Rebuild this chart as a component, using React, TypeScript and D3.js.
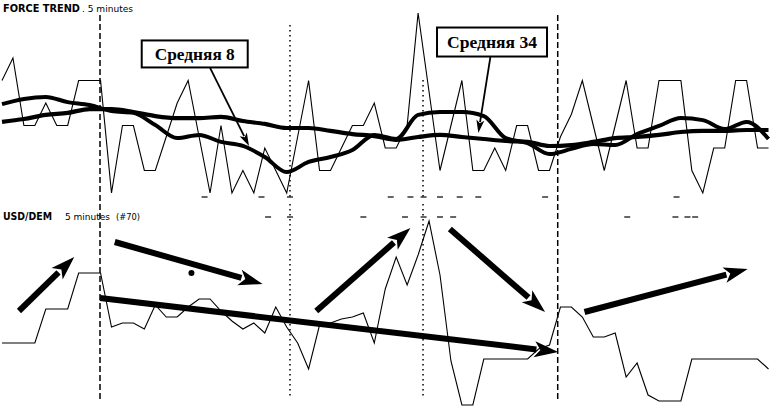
import * as d3 from 'd3'

// bar numbers 0..70, 5-minute bars
const forceTrend = [
  1, 2, -1, -1, 0, -1, -1, 1, 1, 1,
  -4, -1, -1, -3, -3, -1.5, 0, 1, -1.5, -4,
  -1, -4, -3, -4, -2, -3, -4, -1.5, 1, -3,
  -3, -2, -1, -1, 0, -2, -2, -1, 4, 0.5,
  -3, -1, 1, -3, -3, -2, -3, -1, -1, -3,
  -3, -1.5, -0.5, 1, -1, -3, -1, 1, -2, -2,
  1, 1, 1, -3, -4, -2, -2, 1, 1, -2,
  -2,
]

// moving averages, read every second bar
const maBars = d3.range(0, 71, 2)
const ma8 = [
  -0.05, 0.18, 0.27, 0.04, -0.09, -0.36, -0.44, -0.98, -1.56, -1.42,
  -1.73, -1.91, -2.4, -3.07, -2.62, -2.4, -2.09, -1.42, -1.6, -0.53,
  -0.4, -0.4, -0.58, -1.56, -1.78, -2.27, -2.04, -1.82, -1.87, -1.38,
  -1.02, -0.67, -0.76, -1.16, -0.84, -1.6,
]
const ma34 = [
  -0.84, -0.71, -0.53, -0.44, -0.27, -0.27, -0.4, -0.58, -0.67, -0.67,
  -0.62, -0.8, -0.93, -1.11, -1.11, -1.24, -1.38, -1.47, -1.64, -1.51,
  -1.42, -1.51, -1.6, -1.69, -1.73, -1.91, -1.87, -1.73, -1.56, -1.51,
  -1.42, -1.29, -1.24, -1.24, -1.2, -1.2,
]

const usdDem = [
  1.4731, 1.4731, 1.4731, 1.4731, 1.4748, 1.4748, 1.4748, 1.4766, 1.4766, 1.4766,
  1.4739, 1.4741, 1.4741, 1.4738, 1.4750, 1.4744, 1.4744, 1.4749, 1.4753, 1.4753,
  1.4747, 1.4742, 1.4738, 1.4741, 1.4736, 1.4749, 1.4739, 1.4731, 1.4718, 1.4740,
  1.4741, 1.4743, 1.4744, 1.4746, 1.4731, 1.4758, 1.4774, 1.4760, 1.4775, 1.4792,
  1.4765, 1.4722, 1.4700, 1.4700, 1.4723, 1.4723, 1.4723, 1.4723, 1.4723, 1.4728,
  1.4730, 1.4749, 1.4749, 1.4744, 1.4734, 1.4734, 1.4736, 1.4714, 1.4721, 1.4705,
  1.4702, 1.4702, 1.4702, 1.4723, 1.4723, 1.4723, 1.4723, 1.4723, 1.4723, 1.4723,
  1.4718,
]

// vertical markers (bar position)
const dashedBars = [8.95, 50.75]
const dottedBars = [26.3, 38.45]

// leftover grid dashes from the print
const topGridMarks = [18.5, 23.7, 26.3, 35.5, 37.3, 38.5, 40, 41.8, 43.5, 49.6, 61.6]
const bottomGridMarks = [24.3, 26.3, 33, 36.8, 38.5, 40, 41.2, 57.1, 61.5, 62.6, 63.3]

// trend arrows on the price panel: [bar, price] -> [bar, price]
const trendArrows: [number, number, number, number][] = [
  [1.55, 1.4747, 6.6, 1.4774],
  [10.3, 1.47815, 23.8, 1.47605],
  [8.95, 1.47535, 50.8, 1.47265],
  [28.7, 1.4747, 37.3, 1.47885],
  [40.9, 1.4788, 49.6, 1.47465],
  [53.2, 1.47465, 68.1, 1.4768],
]
const priceDot = [17.3, 1.4766]

// callouts on the force panel
const callouts = [
  { label: 'Средняя 8', bar: 17.6, value: 2.18, w: 106, h: 27, tl: 80, from: [19, 1.56], to: [22.56, -1.91] },
  { label: 'Средняя 34', bar: 44.75, value: 2.71, w: 110, h: 29, tl: 90, from: [44.6, 2.04], to: [43.5, -1.33] },
]

const W = 783
const H = 416

function Arrow({ x1, y1, x2, y2, w, hl, hw }: { x1: number; y1: number; x2: number; y2: number; w: number; hl: number; hw: number }) {
  const dx = x2 - x1
  const dy = y2 - y1
  const len = Math.hypot(dx, dy)
  const ux = dx / len
  const uy = dy / len
  const px = -uy
  const py = ux
  const bx = x2 - ux * hl
  const by = y2 - uy * hl
  const pts = [
    [x2, y2],
    [bx + (px * hw) / 2, by + (py * hw) / 2],
    [bx + ux * hl * 0.25, by + uy * hl * 0.25],
    [bx - (px * hw) / 2, by - (py * hw) / 2],
  ]
  return (
    <g>
      <line x1={x1} y1={y1} x2={bx + ux * 2} y2={by + uy * 2} stroke="#000" strokeWidth={w} />
      <polygon points={pts.map(p => p.join(',')).join(' ')} fill="#000" />
    </g>
  )
}

export default function App() {
  const x = d3.scaleLinear().domain([0, 70]).range([2, 768.5])
  const yF = d3.scaleLinear().domain([-4, 4]).range([193, 13])
  const yP = d3.scaleLinear().domain([1.47, 1.4792]).range([405, 221])

  const thin = d3.line<number>().x((_, i) => x(i)).y(d => yF(d))
  const ma = d3.line<number>().x((_, i) => x(maBars[i])).y(d => yF(d)).curve(d3.curveMonotoneX)
  const price = d3.line<number>().x((_, i) => x(i)).y(d => yP(d))

  const labelFont = 'DejaVu Sans Condensed, Liberation Sans Narrow, Arial Narrow, sans-serif'

  return (
    <svg
      width={W}
      height={H}
      viewBox={`0 0 ${W} ${H}`}
      style={{ position: 'fixed', left: 0, top: 0, background: '#fff' }}
    >
      <rect width={W} height={H} fill="#fff" />

      {/* titles */}
      <text x={3} y={12} fontFamily={labelFont} fontSize={10.5} fill="#000">
        <tspan fontWeight="bold" textLength={77} lengthAdjust="spacingAndGlyphs">FORCE TREND</tspan>
        <tspan x={82} fontSize={9} textLength={51} lengthAdjust="spacingAndGlyphs">. 5 minutes</tspan>
      </text>
      <text x={3} y={220} fontFamily={labelFont} fontSize={10} fill="#000">
        <tspan fontWeight="bold" textLength={49} lengthAdjust="spacingAndGlyphs">USD/DEM</tspan>
        <tspan x={65} fontSize={9} textLength={45} lengthAdjust="spacingAndGlyphs">5 minutes</tspan>
        <tspan x={116} fontSize={9} textLength={24} lengthAdjust="spacingAndGlyphs">(#70)</tspan>
      </text>

      {/* vertical markers */}
      {dashedBars.map(b => (
        <line key={`d${b}`} x1={x(b)} x2={x(b)} y1={15} y2={402} stroke="#000" strokeWidth={1.5} strokeDasharray="6,3" />
      ))}
      {dottedBars.map(b => (
        <g key={`o${b}`}>
          <line x1={x(b)} x2={x(b)} y1={b > 30 ? 80 : 25} y2={197} stroke="#000" strokeWidth={1.5} strokeDasharray="1.5,3.5" />
          <line x1={x(b)} x2={x(b)} y1={204} y2={396} stroke="#000" strokeWidth={1.5} strokeDasharray="1.5,3.5" />
        </g>
      ))}

      {/* stray grid dashes */}
      {topGridMarks.map(b => (
        <line key={`t${b}`} x1={x(b) - 3} x2={x(b) + 3} y1={197} y2={197} stroke="#000" strokeWidth={1.2} />
      ))}
      {bottomGridMarks.map(b => (
        <line key={`b${b}`} x1={x(b) - 3} x2={x(b) + 3} y1={217} y2={217} stroke="#000" strokeWidth={1.2} />
      ))}

      {/* force trend panel */}
      <path d={thin(forceTrend) ?? ''} fill="none" stroke="#000" strokeWidth={1.1} strokeLinejoin="miter" />
      <path d={ma(ma34) ?? ''} fill="none" stroke="#000" strokeWidth={4.2} strokeLinejoin="round" />
      <path d={ma(ma8) ?? ''} fill="none" stroke="#000" strokeWidth={4} strokeLinejoin="round" />

      {callouts.map(c => {
        const cx = x(c.bar)
        const cy = yF(c.value)
        return (
          <g key={c.label}>
            <Arrow x1={x(c.from[0])} y1={yF(c.from[1])} x2={x(c.to[0])} y2={yF(c.to[1])} w={1.8} hl={13} hw={8} />
            <rect x={cx - c.w / 2} y={cy - c.h / 2} width={c.w} height={c.h} fill="#fff" stroke="#000" strokeWidth={2} />
            <text
              x={cx}
              y={cy + 6}
              textAnchor="middle"
              fontFamily="Liberation Serif, Times New Roman, serif"
              fontWeight="bold"
              fontSize={17}
              textLength={c.tl}
              lengthAdjust="spacingAndGlyphs"
            >
              {c.label}
            </text>
          </g>
        )
      })}

      {/* price panel */}
      <path d={price(usdDem) ?? ''} fill="none" stroke="#000" strokeWidth={1.1} />
      {trendArrows.map((a, i) => (
        <Arrow key={i} x1={x(a[0])} y1={yP(a[1])} x2={x(a[2])} y2={yP(a[3])} w={6} hl={24} hw={16} />
      ))}
      <circle cx={x(priceDot[0])} cy={yP(priceDot[1])} r={3} fill="#000" />
    </svg>
  )
}
